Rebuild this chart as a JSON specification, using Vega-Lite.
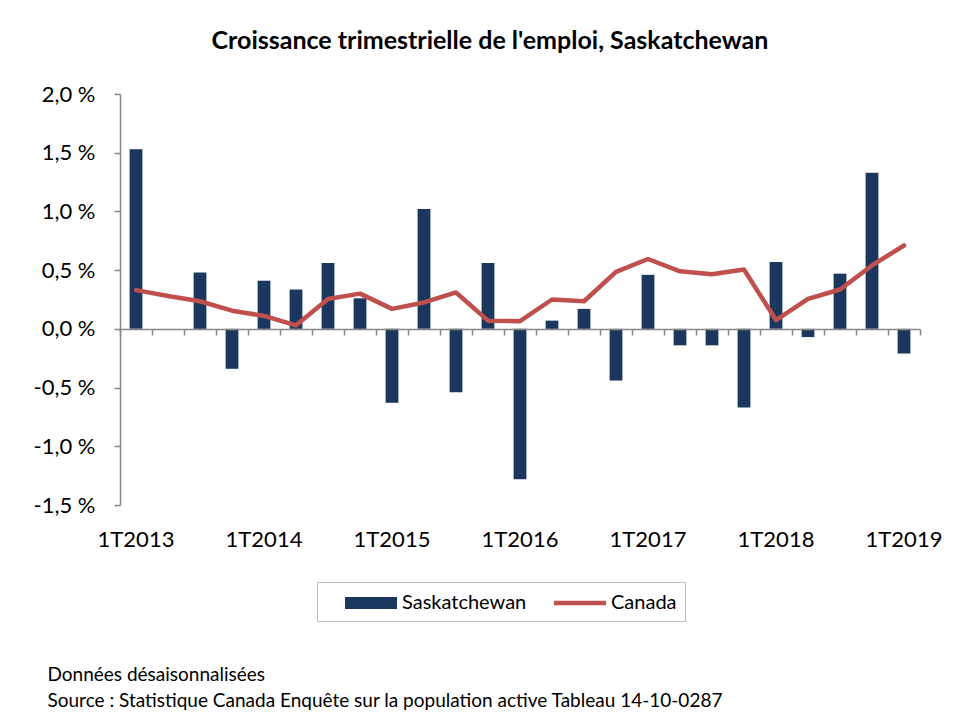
{
  "$schema": "https://vega.github.io/schema/vega-lite/v6.json",
  "width": 800,
  "height": 411,
  "autosize": {"type": "none"},
  "padding": {"left": 120, "top": 94, "right": 38, "bottom": 223},
  "background": "white",
  "config": {"view": {"stroke": null}, "font": "Lato"},
  "title": {
    "text": "Croissance trimestrielle de l'emploi, Saskatchewan",
    "font": "Lato",
    "fontSize": 25,
    "fontWeight": "bold",
    "color": "black",
    "anchor": "middle",
    "frame": "group",
    "dx": -30,
    "offset": 29
  },
  "data": {
    "values": [
      {"t": "1T2013", "serie": "Saskatchewan", "v": 1.53},
      {"t": "2T2013", "serie": "Saskatchewan", "v": 0},
      {"t": "3T2013", "serie": "Saskatchewan", "v": 0.48},
      {"t": "4T2013", "serie": "Saskatchewan", "v": -0.34},
      {"t": "1T2014", "serie": "Saskatchewan", "v": 0.41},
      {"t": "2T2014", "serie": "Saskatchewan", "v": 0.335},
      {"t": "3T2014", "serie": "Saskatchewan", "v": 0.56},
      {"t": "4T2014", "serie": "Saskatchewan", "v": 0.26},
      {"t": "1T2015", "serie": "Saskatchewan", "v": -0.63},
      {"t": "2T2015", "serie": "Saskatchewan", "v": 1.02},
      {"t": "3T2015", "serie": "Saskatchewan", "v": -0.54},
      {"t": "4T2015", "serie": "Saskatchewan", "v": 0.56},
      {"t": "1T2016", "serie": "Saskatchewan", "v": -1.28},
      {"t": "2T2016", "serie": "Saskatchewan", "v": 0.07},
      {"t": "3T2016", "serie": "Saskatchewan", "v": 0.17},
      {"t": "4T2016", "serie": "Saskatchewan", "v": -0.44},
      {"t": "1T2017", "serie": "Saskatchewan", "v": 0.46},
      {"t": "2T2017", "serie": "Saskatchewan", "v": -0.14},
      {"t": "3T2017", "serie": "Saskatchewan", "v": -0.14},
      {"t": "4T2017", "serie": "Saskatchewan", "v": -0.67},
      {"t": "1T2018", "serie": "Saskatchewan", "v": 0.57},
      {"t": "2T2018", "serie": "Saskatchewan", "v": -0.07},
      {"t": "3T2018", "serie": "Saskatchewan", "v": 0.47},
      {"t": "4T2018", "serie": "Saskatchewan", "v": 1.33},
      {"t": "1T2019", "serie": "Saskatchewan", "v": -0.21},
      {"t": "1T2013", "serie": "Canada", "v": 0.33},
      {"t": "2T2013", "serie": "Canada", "v": 0.28},
      {"t": "3T2013", "serie": "Canada", "v": 0.235},
      {"t": "4T2013", "serie": "Canada", "v": 0.155},
      {"t": "1T2014", "serie": "Canada", "v": 0.11},
      {"t": "2T2014", "serie": "Canada", "v": 0.03},
      {"t": "3T2014", "serie": "Canada", "v": 0.255},
      {"t": "4T2014", "serie": "Canada", "v": 0.3},
      {"t": "1T2015", "serie": "Canada", "v": 0.17},
      {"t": "2T2015", "serie": "Canada", "v": 0.225},
      {"t": "3T2015", "serie": "Canada", "v": 0.31},
      {"t": "4T2015", "serie": "Canada", "v": 0.07},
      {"t": "1T2016", "serie": "Canada", "v": 0.065},
      {"t": "2T2016", "serie": "Canada", "v": 0.25},
      {"t": "3T2016", "serie": "Canada", "v": 0.235},
      {"t": "4T2016", "serie": "Canada", "v": 0.485},
      {"t": "1T2017", "serie": "Canada", "v": 0.595},
      {"t": "2T2017", "serie": "Canada", "v": 0.49},
      {"t": "3T2017", "serie": "Canada", "v": 0.465},
      {"t": "4T2017", "serie": "Canada", "v": 0.505},
      {"t": "1T2018", "serie": "Canada", "v": 0.075},
      {"t": "2T2018", "serie": "Canada", "v": 0.255},
      {"t": "3T2018", "serie": "Canada", "v": 0.335},
      {"t": "4T2018", "serie": "Canada", "v": 0.54},
      {"t": "1T2019", "serie": "Canada", "v": 0.71}
    ]
  },
  "layer": [
    {
      "transform": [{"filter": "datum.serie === 'Saskatchewan'"}],
      "mark": {"type": "bar", "width": {"band": 0.4}},
      "encoding": {
        "x": {
          "field": "t",
          "type": "ordinal",
          "sort": null,
          "scale": {"paddingInner": 0, "paddingOuter": 0},
          "axis": {
            "orient": "bottom",
            "offset": -176,
            "labels": false,
            "title": null,
            "grid": false,
            "domainColor": "#868686",
            "domainWidth": 1.5,
            "tickColor": "#868686",
            "tickWidth": 1.5,
            "tickSize": 6,
            "tickBand": "extent",
            "zindex": 1
          }
        },
        "y": {
          "field": "v",
          "type": "quantitative",
          "scale": {"domain": [-1.5, 2], "nice": false, "zero": false},
          "axis": {
            "values": [-1.5, -1, -0.5, 0, 0.5, 1, 1.5, 2],
            "labelExpr": "replace(replace(format(datum.value, '.1f'), '.', ','), '−', '-') + ' %'",
            "grid": false,
            "title": null,
            "domainColor": "#868686",
            "domainWidth": 1.5,
            "tickColor": "#868686",
            "tickWidth": 1.5,
            "tickSize": 6,
            "labelFont": "Lato",
            "labelFontSize": 22,
            "labelColor": "black",
            "labelPadding": 19
          }
        },
        "color": {
          "field": "serie",
          "type": "nominal",
          "scale": {"domain": ["Saskatchewan", "Canada"], "range": ["#1b375e", "#c0504d"]},
          "legend": {
            "title": null,
            "orient": "none",
            "legendX": 197,
            "legendY": 488,
            "direction": "horizontal",
            "strokeColor": "#bfbfbf",
            "padding": 8,
            "symbolOffset": 33,
            "columnPadding": 7,
            "labelFont": "Lato",
            "labelFontSize": 20,
            "labelColor": "black",
            "labelOffset": 18,
            "symbolSize": 676,
            "symbolType": "M-2,-0.46H2V0.46H-2Z",
            "encode": {
              "symbols": {
                "update": {
                  "shape": {"signal": "datum.value === 'Canada' ? 'M-2,-0.18H2V0.18H-2Z' : 'M-2,-0.46H2V0.46H-2Z'"},
                  "fill": {"signal": "datum.value === 'Canada' ? '#c0504d' : '#1b375e'"},
                  "stroke": {"value": "transparent"},
                  "strokeWidth": {"value": 0},
                  "size": {"value": 676},
                  "opacity": {"value": 1}
                }
              }
            }
          }
        }
      }
    },
    {
      "transform": [{"filter": "datum.serie === 'Canada'"}],
      "mark": {"type": "line", "strokeWidth": 4.5, "strokeCap": "round", "strokeJoin": "round"},
      "encoding": {
        "x": {
          "field": "t",
          "type": "ordinal",
          "sort": null,
          "axis": {
            "orient": "bottom",
            "domain": false,
            "ticks": false,
            "grid": false,
            "labelAngle": 0,
            "labelOverlap": false,
            "labelExpr": "indexof(datum.label, '1T') == 0 ? datum.label : ''",
            "labelFont": "Lato",
            "labelFontSize": 22,
            "labelColor": "black",
            "labelPadding": 24,
            "labelBaseline": "top",
            "title": ["Données désaisonnalisées", "Source : Statistique Canada Enquête sur la population active Tableau 14-10-0287"],
            "titleFont": "Lato",
            "titleFontSize": 19,
            "titleFontWeight": "normal",
            "titleColor": "black",
            "titleAlign": "left",
            "titleAnchor": "start",
            "titleBaseline": "top",
            "titleX": -73,
            "titleY": 160,
            "titleLineHeight": 26
          }
        },
        "y": {"field": "v", "type": "quantitative"},
        "color": {"field": "serie", "type": "nominal"}
      }
    }
  ],
  "resolve": {"axis": {"x": "independent"}}
}
